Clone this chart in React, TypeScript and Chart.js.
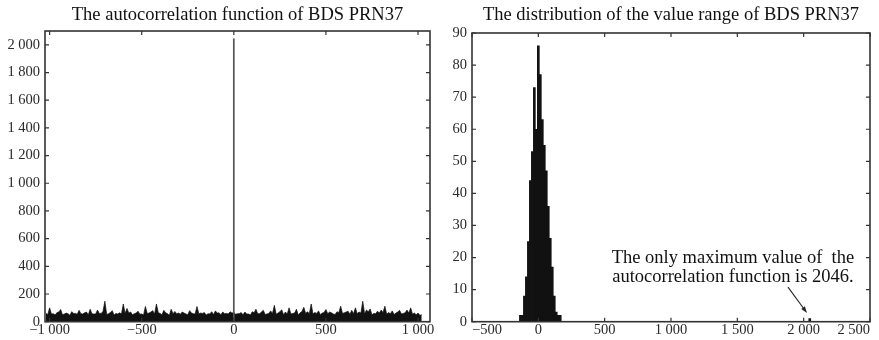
import React, { useEffect, useRef } from "react";
import { Chart, registerables } from "chart.js";

Chart.register(...registerables);

const FONT = "'Liberation Serif', 'Times New Roman', serif";
const TEXT = "#111";
const TICK_TEXT = "#2a2a2a";
const FRAME = "#333";

// ---- Autocorrelation of BDS PRN37 (left panel) ----
const ACF_TITLE = "The autocorrelation function of BDS PRN37";
const ACF_LAG_START = -1020;
const ACF_LAG_STEP = 10;
const ACF_VALUES = [
  60, 52, 100, 55, 58, 48, 66, 70, 88, 50,
  55, 62, 58, 46, 72, 60, 60, 54, 82, 58,
  56, 64, 70, 50, 90, 58, 55, 56, 84, 60,
  60, 75, 148, 52, 58, 66, 80, 48, 60, 56,
  64, 55, 128, 60, 96, 62, 70, 50, 58, 62,
  76, 54, 56, 48, 110, 60, 62, 70, 80, 56,
  128, 64, 60, 50, 82, 64, 58, 46, 90, 58,
  74, 58, 62, 54, 70, 62, 56, 50, 80, 62,
  58, 56, 110, 58, 62, 60, 66, 48, 58, 56,
  72, 52, 78, 62, 64, 50, 70, 58, 60, 56,
  72, 62, 66, 54, 58, 58, 66, 50, 70, 55,
  56, 48, 72, 64, 90, 58, 58, 70, 82, 52,
  56, 60, 78, 60, 118, 54, 62, 72, 86, 50,
  70, 56, 100, 56, 60, 62, 90, 48, 64, 74,
  104, 60, 72, 58, 128, 56, 66, 60, 78, 50,
  62, 66, 88, 58, 70, 64, 56, 52, 72, 64,
  112, 60, 64, 70, 76, 54, 82, 58, 100, 58,
  70, 62, 148, 56, 84, 72, 92, 50, 60, 58,
  76, 62, 84, 66, 112, 54, 66, 58, 78, 52,
  62, 70, 82, 56, 60, 64, 84, 62, 100, 54,
  62, 50, 62, 46, 50,
];
const ACF_PEAK_LAG = 0;
const ACF_PEAK_VALUE = 2046;
const ACF_X_TICKS = [-1000, -500, 0, 500, 1000];
const ACF_X_LABELS = ["\u22121 000", "\u2212500", "0", "500", "1 000"];
const ACF_Y_TICKS = [0, 200, 400, 600, 800, 1000, 1200, 1400, 1600, 1800, 2000];
const ACF_Y_LABELS = ["0", "200", "400", "600", "800", "1 000", "1 200", "1 400", "1 600", "1 800", "2 000"];

// ---- Histogram of the autocorrelation values (right panel) ----
const HIST_TITLE = "The distribution of the value range of BDS PRN37";
const HIST_BINS = [-135, -120, -105, -90, -75, -60, -45, -30, -15, 0, 15, 30, 45, 60, 75, 90, 105, 120, 135, 150, 165, 2046];
const HIST_COUNTS = [2, 2, 8, 14, 25, 44, 53, 73, 60, 86, 77, 63, 55, 47, 36, 26, 17, 8, 3, 2, 2, 1];
const HIST_X_TICKS = [-500, 0, 500, 1000, 1500, 2000, 2500];
const HIST_X_LABELS = ["\u2212500", "0", "500", "1 000", "1 500", "2 000", "2 500"];
const HIST_Y_TICKS = [0, 10, 20, 30, 40, 50, 60, 70, 80, 90];
const HIST_Y_LABELS = ["0", "10", "20", "30", "40", "50", "60", "70", "80", "90"];

const NOTE_LINES = ["The only maximum value of  the", "autocorrelation function is 2046."];
const NOTE_X = 1467;
const NOTE_Y = [18.4, 12.5];
const ARROW_FROM = [1882, 10.8];
const ARROW_TO = [2025, 2.7];

const TICK_LEN = 4;

function labelFor(ticks: number[], labels: string[], v: number) {
  const i = ticks.indexOf(v);
  return i >= 0 ? labels[i] : "";
}

// Box around the plot with inward tick marks on all four sides
const framePlugin = {
  id: "frameTicks",
  afterDraw(chart: any) {
    const { ctx, chartArea: a, scales } = chart;
    const xs = scales.x;
    const ys = scales.y;
    ctx.save();
    ctx.strokeStyle = FRAME;
    ctx.lineWidth = 1.2;
    ctx.beginPath();
    for (const t of xs.ticks) {
      const px = xs.getPixelForValue(t.value);
      ctx.moveTo(px, a.bottom);
      ctx.lineTo(px, a.bottom - TICK_LEN);
      ctx.moveTo(px, a.top);
      ctx.lineTo(px, a.top + TICK_LEN);
    }
    for (const t of ys.ticks) {
      const py = ys.getPixelForValue(t.value);
      ctx.moveTo(a.left, py);
      ctx.lineTo(a.left + TICK_LEN, py);
      ctx.moveTo(a.right, py);
      ctx.lineTo(a.right - TICK_LEN, py);
    }
    ctx.stroke();
    ctx.lineWidth = 1.6;
    ctx.strokeRect(a.left, a.top, a.right - a.left, a.bottom - a.top);
    ctx.restore();
  },
};

// Text note and arrow pointing at the single 2046 value
const notePlugin = {
  id: "maxNote",
  afterDraw(chart: any) {
    const { ctx, scales } = chart;
    const xs = scales.x;
    const ys = scales.y;
    ctx.save();
    ctx.font = `18.5px ${FONT}`;
    ctx.fillStyle = TEXT;
    ctx.textAlign = "center";
    ctx.textBaseline = "alphabetic";
    NOTE_LINES.forEach((line, i) => {
      ctx.fillText(line, xs.getPixelForValue(NOTE_X), ys.getPixelForValue(NOTE_Y[i]));
    });
    const x0 = xs.getPixelForValue(ARROW_FROM[0]);
    const y0 = ys.getPixelForValue(ARROW_FROM[1]);
    const x1 = xs.getPixelForValue(ARROW_TO[0]);
    const y1 = ys.getPixelForValue(ARROW_TO[1]);
    const ang = Math.atan2(y1 - y0, x1 - x0);
    const head = 7;
    const spread = 0.32;
    ctx.strokeStyle = "#222";
    ctx.lineWidth = 1.1;
    ctx.beginPath();
    ctx.moveTo(x0, y0);
    ctx.lineTo(x1 - Math.cos(ang) * head * 0.8, y1 - Math.sin(ang) * head * 0.8);
    ctx.stroke();
    ctx.beginPath();
    ctx.moveTo(x1, y1);
    ctx.lineTo(x1 - head * Math.cos(ang - spread), y1 - head * Math.sin(ang - spread));
    ctx.lineTo(x1 - head * Math.cos(ang + spread), y1 - head * Math.sin(ang + spread));
    ctx.closePath();
    ctx.fillStyle = "#222";
    ctx.fill();
    ctx.restore();
  },
};

function axisTicksFont() {
  return { family: FONT, size: 14.5, weight: "normal" as const };
}

function titleOptions(text: string, blockHeight: number) {
  const size = 18.5;
  const top = 5.4;
  return {
    display: true,
    text,
    fullSize: false,
    color: TEXT,
    font: { family: FONT, size, weight: "normal" as const, lineHeight: 1 },
    padding: { top, bottom: blockHeight - top - size },
  };
}

function acfConfig(): any {
  const points = ACF_VALUES.map((v, i) => ({ x: ACF_LAG_START + i * ACF_LAG_STEP, y: v }));
  return {
    type: "line",
    data: {
      datasets: [
        {
          data: [
            { x: ACF_PEAK_LAG, y: 0 },
            { x: ACF_PEAK_LAG, y: ACF_PEAK_VALUE },
          ],
          borderColor: "#555",
          borderWidth: 1.7,
          pointRadius: 0,
          fill: false,
        },
        {
          data: points,
          borderColor: "#111",
          backgroundColor: "#111",
          borderWidth: 0.7,
          pointRadius: 0,
          tension: 0,
          fill: "origin",
        },
      ],
    },
    options: {
      responsive: false,
      animation: false,
      events: [],
      layout: { padding: { left: 0, right: 10, top: 0, bottom: 0 } },
      plugins: {
        legend: { display: false },
        tooltip: { enabled: false },
        title: titleOptions(ACF_TITLE, 31),
      },
      scales: {
        x: {
          type: "linear",
          min: -1025,
          max: 1065,
          grid: { display: false, drawTicks: false },
          border: { display: false },
          ticks: {
            autoSkip: false,
            maxRotation: 0,
            padding: 0,
            color: TICK_TEXT,
            font: axisTicksFont(),
            callback: (v: number) => labelFor(ACF_X_TICKS, ACF_X_LABELS, v),
          },
          afterBuildTicks: (s: any) => {
            s.ticks = ACF_X_TICKS.map((value) => ({ value }));
          },
          afterFit: (s: any) => {
            s.height = 18.3;
            s.paddingLeft = 0;
            s.paddingRight = 0;
          },
        },
        y: {
          type: "linear",
          min: 0,
          max: 2100,
          grid: { display: false, drawTicks: false },
          border: { display: false },
          ticks: {
            autoSkip: false,
            padding: 5,
            color: TICK_TEXT,
            font: axisTicksFont(),
            callback: (v: number) => labelFor(ACF_Y_TICKS, ACF_Y_LABELS, v),
          },
          afterBuildTicks: (s: any) => {
            s.ticks = ACF_Y_TICKS.map((value) => ({ value }));
          },
          afterFit: (s: any) => {
            s.width = 45;
            s.paddingTop = 0;
            s.paddingBottom = 0;
          },
        },
      },
    },
    plugins: [framePlugin],
  };
}

function histConfig(): any {
  return {
    type: "bar",
    data: {
      datasets: [
        {
          data: HIST_BINS.map((b, i) => ({ x: b, y: HIST_COUNTS[i] })),
          backgroundColor: "#111",
          borderWidth: 0,
          barPercentage: 1,
          categoryPercentage: 1,
        },
      ],
    },
    options: {
      responsive: false,
      animation: false,
      events: [],
      layout: { padding: { left: 0, right: 9, top: 0, bottom: 0 } },
      plugins: {
        legend: { display: false },
        tooltip: { enabled: false },
        title: titleOptions(HIST_TITLE, 33),
      },
      scales: {
        x: {
          type: "linear",
          offset: false,
          min: -500,
          max: 2500,
          grid: { display: false, drawTicks: false, offset: false },
          border: { display: false },
          ticks: {
            autoSkip: false,
            maxRotation: 0,
            padding: 0,
            align: "inner",
            color: TICK_TEXT,
            font: axisTicksFont(),
            callback: (v: number) => labelFor(HIST_X_TICKS, HIST_X_LABELS, v),
          },
          afterBuildTicks: (s: any) => {
            s.ticks = HIST_X_TICKS.map((value) => ({ value }));
          },
          afterFit: (s: any) => {
            s.height = 18.3;
            s.paddingLeft = 0;
            s.paddingRight = 0;
          },
        },
        y: {
          type: "linear",
          min: 0,
          max: 90,
          grid: { display: false, drawTicks: false },
          border: { display: false },
          ticks: {
            autoSkip: false,
            padding: 5,
            color: TICK_TEXT,
            font: axisTicksFont(),
            callback: (v: number) => labelFor(HIST_Y_TICKS, HIST_Y_LABELS, v),
          },
          afterBuildTicks: (s: any) => {
            s.ticks = HIST_Y_TICKS.map((value) => ({ value }));
          },
          afterFit: (s: any) => {
            s.width = 32;
            s.paddingTop = 0;
            s.paddingBottom = 0;
          },
        },
      },
    },
    plugins: [framePlugin, notePlugin],
  };
}

function Panel({ make, left, width }: { make: () => any; left: number; width: number }) {
  const ref = useRef<HTMLCanvasElement>(null);
  useEffect(() => {
    const chart = new Chart(ref.current as HTMLCanvasElement, make());
    return () => chart.destroy();
  }, [make]);
  return (
    <canvas
      ref={ref}
      width={width}
      height={340}
      style={{ position: "absolute", left, top: 0, width, height: 340 }}
    />
  );
}

export default function App() {
  return (
    <div
      style={{
        position: "fixed",
        left: 0,
        top: 0,
        width: 879,
        height: 340,
        background: "#fff",
        overflow: "hidden",
      }}
    >
      <Panel make={acfConfig} left={0} width={440} />
      <Panel make={histConfig} left={440} width={439} />
    </div>
  );
}
